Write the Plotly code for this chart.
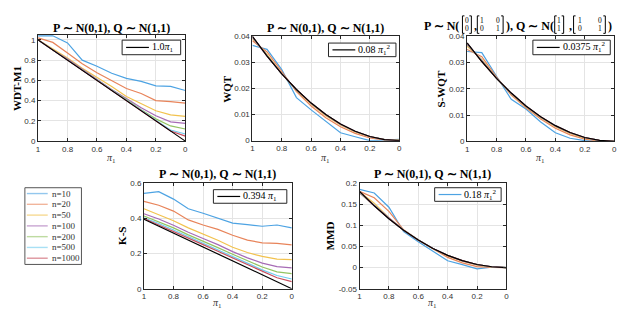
import plotly.graph_objects as go

W, H = 640, 309

# ---------------- data ----------------
pi1 = [1.0, 0.9, 0.8, 0.7, 0.6, 0.5, 0.4, 0.3, 0.2, 0.1, 0.0]
xtick_vals = [1.0, 0.8, 0.6, 0.4, 0.2, 0.0]
xtick_text = ["1", "0.8", "0.6", "0.4", "0.2", "0"]

series_names = ["n=10", "n=20", "n=50", "n=100", "n=200", "n=500", "n=1000"]
series_colors = ["#4DA3E3", "#E8845A", "#F2C24E", "#A66BB5", "#93C463", "#70CDF0", "#C94F5E"]

wdt_m1 = [
    [1.04, 1.04, 0.97, 0.80, 0.74, 0.67, 0.62, 0.59, 0.545, 0.54, 0.50],
    [1.02, 0.975, 0.87, 0.765, 0.675, 0.60, 0.52, 0.47, 0.40, 0.39, 0.375],
    [1.00, 0.91, 0.82, 0.72, 0.63, 0.54, 0.44, 0.37, 0.30, 0.26, 0.245],
    [1.00, 0.90, 0.81, 0.71, 0.61, 0.51, 0.42, 0.33, 0.25, 0.19, 0.175],
    [1.00, 0.90, 0.80, 0.705, 0.605, 0.505, 0.41, 0.31, 0.22, 0.15, 0.12],
    [1.00, 0.90, 0.80, 0.70, 0.60, 0.50, 0.40, 0.305, 0.205, 0.11, 0.07],
    [1.00, 0.90, 0.80, 0.70, 0.60, 0.50, 0.40, 0.30, 0.20, 0.10, 0.05],
]
wdt_m1_ref = [1.0, 0.9, 0.8, 0.7, 0.6, 0.5, 0.4, 0.3, 0.2, 0.1, 0.0]

wqt = [
    [0.0365, 0.0350, 0.0272, 0.0165, 0.0118, 0.0075, 0.0030, 0.0015, 0.0000, 0.0002, 0.0005],
    [0.0383, 0.0340, 0.0265, 0.0188, 0.0133, 0.0088, 0.0053, 0.0028, 0.0010, 0.0003, 0.0002],
    [0.0390, 0.0330, 0.0258, 0.0193, 0.0140, 0.0095, 0.0060, 0.0033, 0.0014, 0.0004, 0.0002],
    [0.0394, 0.0327, 0.0257, 0.0195, 0.0142, 0.0098, 0.0062, 0.0035, 0.0015, 0.0004, 0.0001],
    [0.0397, 0.0325, 0.0256, 0.0195, 0.0143, 0.0099, 0.0063, 0.0035, 0.0016, 0.0004, 0.0001],
    [0.0399, 0.0324, 0.0256, 0.0196, 0.0144, 0.0100, 0.0064, 0.0036, 0.0016, 0.0004, 0.0000],
    [0.0400, 0.0324, 0.0256, 0.0196, 0.0144, 0.0100, 0.0064, 0.0036, 0.0016, 0.0004, 0.0000],
]
wqt_ref = [0.0400, 0.0324, 0.0256, 0.0196, 0.0144, 0.0100, 0.0064, 0.0036, 0.0016, 0.0004, 0.0000]

s_wqt = [
    [0.0342, 0.0338, 0.0248, 0.0160, 0.0123, 0.0074, 0.0033, 0.0012, 0.0003, 0.0000, 0.0000],
    [0.0350, 0.0322, 0.0245, 0.0176, 0.0128, 0.0085, 0.0050, 0.0025, 0.0009, 0.0002, 0.0000],
    [0.0362, 0.0312, 0.0242, 0.0180, 0.0131, 0.0090, 0.0056, 0.0030, 0.0012, 0.0003, 0.0000],
    [0.0368, 0.0308, 0.0241, 0.0182, 0.0133, 0.0092, 0.0058, 0.0032, 0.0014, 0.0003, 0.0000],
    [0.0371, 0.0306, 0.0240, 0.0183, 0.0134, 0.0093, 0.0059, 0.0033, 0.0014, 0.0004, 0.0000],
    [0.0373, 0.0305, 0.0240, 0.0184, 0.0135, 0.0093, 0.0060, 0.0034, 0.0015, 0.0004, 0.0000],
    [0.0374, 0.0304, 0.0240, 0.0184, 0.0135, 0.0094, 0.0060, 0.0034, 0.0015, 0.0004, 0.0000],
]
s_wqt_ref = [0.0375, 0.0304, 0.0240, 0.0184, 0.0135, 0.0094, 0.0060, 0.0034, 0.0015, 0.0004, 0.0000]

ks = [
    [0.541, 0.550, 0.508, 0.453, 0.428, 0.398, 0.372, 0.363, 0.354, 0.361, 0.345],
    [0.495, 0.473, 0.440, 0.390, 0.361, 0.336, 0.303, 0.275, 0.260, 0.257, 0.248],
    [0.453, 0.420, 0.385, 0.345, 0.310, 0.275, 0.235, 0.205, 0.183, 0.168, 0.165],
    [0.425, 0.395, 0.360, 0.320, 0.285, 0.250, 0.210, 0.175, 0.145, 0.125, 0.118],
    [0.412, 0.380, 0.345, 0.305, 0.270, 0.233, 0.195, 0.158, 0.123, 0.095, 0.085],
    [0.402, 0.370, 0.333, 0.295, 0.258, 0.220, 0.182, 0.145, 0.107, 0.075, 0.055],
    [0.398, 0.362, 0.325, 0.287, 0.250, 0.212, 0.174, 0.136, 0.098, 0.062, 0.040],
]
ks_ref = [0.394, 0.355, 0.315, 0.276, 0.236, 0.197, 0.158, 0.118, 0.079, 0.039, 0.0]

mmd = [
    [0.1845, 0.1760, 0.1425, 0.0850, 0.0610, 0.0395, 0.0160, 0.0070, -0.0030, 0.0008, 0.0000],
    [0.1800, 0.1650, 0.1326, 0.0890, 0.0645, 0.0435, 0.0240, 0.0110, 0.0020, 0.0005, 0.0000],
    [0.1790, 0.1520, 0.1180, 0.0885, 0.0648, 0.0445, 0.0275, 0.0150, 0.0060, 0.0012, 0.0000],
    [0.1760, 0.1470, 0.1160, 0.0883, 0.0648, 0.0448, 0.0283, 0.0158, 0.0068, 0.0015, 0.0000],
    [0.1770, 0.1462, 0.1155, 0.0882, 0.0648, 0.0449, 0.0286, 0.0160, 0.0070, 0.0017, 0.0000],
    [0.1790, 0.1460, 0.1153, 0.0882, 0.0648, 0.0450, 0.0287, 0.0161, 0.0071, 0.0018, 0.0000],
    [0.1795, 0.1459, 0.1152, 0.0882, 0.0648, 0.0450, 0.0288, 0.0162, 0.0072, 0.0018, 0.0000],
]
mmd_ref = [0.1800, 0.1458, 0.1152, 0.0882, 0.0648, 0.0450, 0.0288, 0.0162, 0.0072, 0.0018, 0.0000]

# ---------------- layout helpers ----------------
def fx(p):
    return p / W

def fy(p):
    return 1 - p / H

SERIF = "Liberation Serif"
SANS = "Liberation Sans"
AX = "#262626"

panels = [
    dict(vals=wdt_m1, ref=wdt_m1_ref, box=(28.3, 23.5, 176.7, 133), yr=[0, 1.05],
         yt=[0, 0.2, 0.4, 0.6, 0.8, 1.0], ytt=["0", "0.2", "0.4", "0.6", "0.8", "1"],
         ylab="WDT-M1", ylx=7, xly=151, title_y=16,
         leg=(113, 29, 172, 44), legtxt="1.0<i>π</i><sub>1</sub>", legcol="black"),
    dict(vals=wqt, ref=wqt_ref, box=(244.3, 25, 392.3, 132.5), yr=[0, 0.04],
         yt=[0, 0.01, 0.02, 0.03, 0.04], ytt=["0", "0.01", "0.02", "0.03", "0.04"],
         ylab="WQT", ylx=219, xly=151, title_y=16,
         leg=(321, 32, 389, 46), legtxt="0.08 <i>π</i><sub>1</sub><sup>2</sup>", legcol="black"),
    dict(vals=s_wqt, ref=s_wqt_ref, box=(460.7, 25, 609, 133.3), yr=[0, 0.04],
         yt=[0, 0.01, 0.02, 0.03, 0.04], ytt=["0", "0.01", "0.02", "0.03", "0.04"],
         ylab="S-WQT", ylx=434, xly=151, title_y=None,
         leg=(527, 29, 605, 44), legtxt="0.0375 <i>π</i><sub>1</sub><sup>2</sup>", legcol="black"),
    dict(vals=ks, ref=ks_ref, box=(135, 176, 284, 285), yr=[0, 0.6],
         yt=[0, 0.2, 0.4, 0.6], ytt=["0", "0.2", "0.4", "0.6"],
         ylab="K-S", ylx=113, xly=300, title_y=167,
         leg=(205, 183, 279, 197), legtxt="0.394 <i>π</i><sub>1</sub>", legcol="black"),
    dict(vals=mmd, ref=mmd_ref, box=(352.3, 176, 500.3, 285), yr=[-0.05, 0.2],
         yt=[-0.05, 0, 0.05, 0.1, 0.15, 0.2], ytt=["-0.05", "0", "0.05", "0.1", "0.15", "0.2"],
         ylab="MMD", ylx=322, xly=300, title_y=167,
         leg=(428, 181, 495, 195), legtxt="0.18 <i>π</i><sub>1</sub><sup>2</sup>", legcol=series_colors[0]),
]

fig = go.Figure()
layout = {}
shapes = []
annotations = []
title_text = "<b>P ∼ N(0,1), Q ∼ N(1,1)</b>"

for i, p in enumerate(panels, start=1):
    xa = "x" if i == 1 else f"x{i}"
    ya = "y" if i == 1 else f"y{i}"
    for vals, c in zip(p["vals"], series_colors):
        fig.add_trace(go.Scatter(x=pi1, y=vals, mode="lines", line=dict(color=c, width=1.2),
                                 xaxis=xa, yaxis=ya, showlegend=False, hoverinfo="skip"))
    fig.add_trace(go.Scatter(x=pi1, y=p["ref"], mode="lines", line=dict(color="black", width=1.2),
                             xaxis=xa, yaxis=ya, showlegend=False, hoverinfo="skip"))
    x0, y0, x1, y1 = p["box"]
    common = dict(showline=True, mirror="ticks", linecolor=AX, linewidth=1, ticks="inside",
                  ticklen=3, tickcolor=AX, showgrid=True, gridcolor="#e4e4e4", gridwidth=1,
                  zeroline=False, tickfont=dict(family=SANS, size=8, color="#333333"),
                  fixedrange=True)
    layout["xaxis" if i == 1 else f"xaxis{i}"] = dict(
        domain=[fx(x0), fx(x1)], range=[1, 0], tickvals=xtick_vals, ticktext=xtick_text,
        anchor=ya, **common)
    layout["yaxis" if i == 1 else f"yaxis{i}"] = dict(
        domain=[fy(y1), fy(y0)], range=p["yr"], tickvals=p["yt"], ticktext=p["ytt"],
        anchor=xa, **common)
    # axis titles
    annotations.append(dict(x=fx(p["ylx"]), y=fy((y0 + y1) / 2), xref="paper", yref="paper",
                            text=f"<b>{p['ylab']}</b>", textangle=-90, showarrow=False,
                            font=dict(family=SERIF, size=11, color="black"),
                            xanchor="center", yanchor="middle"))
    annotations.append(dict(x=fx((x0 + x1) / 2), y=fy(p["xly"]), xref="paper", yref="paper",
                            text="<i>π</i><sub>1</sub>", showarrow=False,
                            font=dict(family=SERIF, size=10, color="#333333"),
                            xanchor="center", yanchor="middle"))
    if p["title_y"] is not None:
        annotations.append(dict(x=fx((x0 + x1) / 2), y=fy(p["title_y"]), xref="paper", yref="paper",
                                text=title_text, showarrow=False,
                                font=dict(family=SERIF, size=12, color="black"),
                                xanchor="center", yanchor="middle"))
    # in-plot legend
    lx0, ly0, lx1, ly1 = p["leg"]
    shapes.append(dict(type="rect", xref="paper", yref="paper", x0=fx(lx0), x1=fx(lx1),
                       y0=fy(ly1), y1=fy(ly0), line=dict(color=AX, width=1), fillcolor="white"))
    ym = (ly0 + ly1) / 2
    shapes.append(dict(type="line", xref="paper", yref="paper", x0=fx(lx0 + 4), x1=fx(lx0 + 27),
                       y0=fy(ym), y1=fy(ym), line=dict(color=p["legcol"], width=1.2)))
    annotations.append(dict(x=fx(lx0 + 28), y=fy(ym), xref="paper", yref="paper",
                            text=p["legtxt"], showarrow=False, xanchor="left", yanchor="middle",
                            font=dict(family=SERIF, size=10, color="black")))

# ---- title of the third panel (bivariate normals with matrices) ----
TY = 14
def txt(x, s, anchor="left", size=12, bold=True, y=TY):
    annotations.append(dict(x=fx(x), y=fy(y), xref="paper", yref="paper",
                            text=f"<b>{s}</b>" if bold else s, showarrow=False,
                            xanchor=anchor, yanchor="middle",
                            font=dict(family=SERIF, size=size, color="black")))

def bracket(x, side):
    d = 2 if side == "l" else -2
    path = (f"M {fx(x + d)},{fy(4)} L {fx(x)},{fy(4)} L {fx(x)},{fy(22)} L {fx(x + d)},{fy(22)}")
    shapes.append(dict(type="path", xref="paper", yref="paper", path=path,
                       line=dict(color="black", width=1)))

def matrix(xl, cols, rows, xr):
    bracket(xl, "l")
    bracket(xr, "r")
    for r, ry in zip(rows, (8.5, 17.5)):
        for cx, v in zip(cols, r):
            txt(cx, v, anchor="center", size=7.5, bold=False, y=ry)

txt(455, "P ∼ N(", anchor="right")
matrix(456, [460.5], [["0"], ["0"]], 465)
txt(466, ",")
matrix(471, [476, 492], [["1", "0"], ["0", "1"]], 497)
txt(498, "), Q ∼ N(")
matrix(549, [553.5], [["1"], ["1"]], 558)
txt(561, ",")
matrix(568, [574, 595], [["1", "0"], ["0", "1"]], 600)
txt(601, ")")

# ---- main legend (series) ----
shapes.append(dict(type="rect", xref="paper", yref="paper", x0=fx(15), x1=fx(72),
                   y0=fy(260), y1=fy(181), line=dict(color="#555555", width=1), fillcolor="white"))
for k, (name, c) in enumerate(zip(series_names, series_colors)):
    yy = 187 + k * 11.1
    shapes.append(dict(type="line", xref="paper", yref="paper", x0=fx(17), x1=fx(38),
                       y0=fy(yy), y1=fy(yy), line=dict(color=c, width=1.4), opacity=0.6))
    annotations.append(dict(x=fx(40), y=fy(yy), xref="paper", yref="paper", text=name,
                            showarrow=False, xanchor="left", yanchor="middle",
                            font=dict(family=SERIF, size=9, color="#333333")))

fig.update_layout(width=W, height=H, margin=dict(l=0, r=0, t=0, b=0),
                  paper_bgcolor="white", plot_bgcolor="white", showlegend=False,
                  shapes=shapes, annotations=annotations, **layout)

fig.write_html("out.html", config={"displayModeBar": False})
